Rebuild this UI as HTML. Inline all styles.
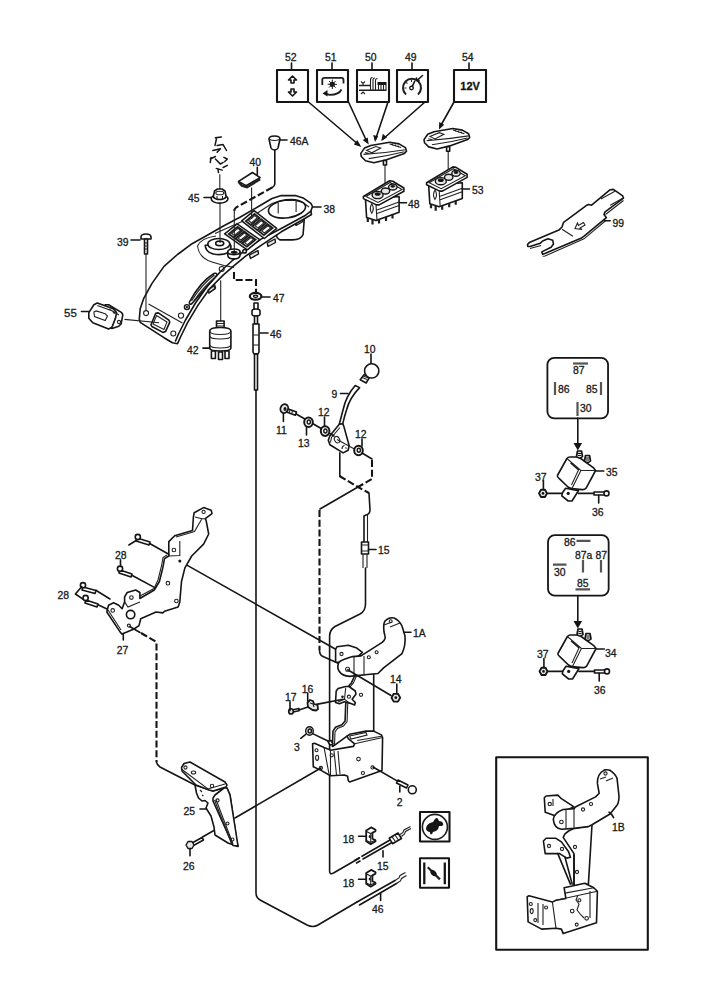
<!DOCTYPE html>
<html><head><meta charset="utf-8">
<style>
html,body{margin:0;padding:0;background:#fff;}
body{width:707px;height:1000px;overflow:hidden;}
svg{display:block;}
text{font-family:"Liberation Sans",sans-serif;font-size:10.4px;fill:#1a1a1a;stroke:#1a1a1a;stroke-width:0.3px;}
.l{fill:none;stroke:#151515;stroke-width:1.6;stroke-linejoin:round;stroke-linecap:round;}
.t{fill:none;stroke:#222;stroke-width:1.1;}
.th{fill:none;stroke:#151515;stroke-width:2.1;stroke-linejoin:round;}
.d{fill:none;stroke:#151515;stroke-width:2.1;stroke-dasharray:7 2.7;}
.p{fill:#fff;stroke:#151515;stroke-width:1.6;stroke-linejoin:round;}
.g{fill:#e6e6e6;stroke:#151515;stroke-width:1.4;stroke-linejoin:round;}
.k{fill:#151515;}
</style></head>
<body>
<svg width="707" height="1000" viewBox="0 0 707 1000">
<rect width="707" height="1000" fill="#fff"/>
<!-- SECTION:TOP -->
<g id="top">
<!-- icon boxes -->
<rect class="th" x="277" y="70" width="31" height="32"/>
<rect class="th" x="317" y="70" width="31" height="32"/>
<rect class="th" x="357" y="70" width="32" height="32"/>
<rect class="th" x="397" y="70" width="31" height="32"/>
<rect class="th" x="454" y="70" width="32" height="32"/>
<path class="l" d="M291.5 63V70M332 63V70M372 63V70M412 63V70M469 63V70"/>
<text x="285" y="61">52</text><text x="325" y="61">51</text><text x="365" y="61">50</text><text x="405" y="61">49</text><text x="462" y="61">54</text>
<!-- icon 52 arrows -->
<path class="l" d="M292.5 76l-4 4h2.5v3h3v-3h2.5z M292.5 96l-4 -4h2.5v-3h3v3h2.5z"/>
<!-- icon 51 -->
<path d="M322.3 85.1V79.5Q322.3 77.8 324.5 77.8H341.5Q343.5 77.8 343.5 80V83.5" fill="none" stroke="#1e1e1e" stroke-width="1.8"/>
<path d="M341.5 89.5Q339 94.8 330 94.8L326 94" fill="none" stroke="#1e1e1e" stroke-width="1.8"/>
<path class="k" d="M322.5 93.5l5-3.5v6.5z"/>
<circle class="k" cx="332.3" cy="84.3" r="2.6"/>
<path d="M332.3 79.6v9.4M327.6 84.3h9.4M329 81l6.6 6.6M335.6 81l-6.6 6.6" stroke="#1e1e1e" stroke-width="1"/>
<!-- icon 50 -->
<path d="M359 85.4H371M359 90.2H386.5" stroke="#1e1e1e" stroke-width="1.5"/>
<path class="t" d="M361 81.5l2 2 2-2M361 94l2-2 2 2M363 83.5v1.5M363 91.5v1"/>
<path d="M370.5 90V80q0-2.5 2-2.5M373 90V80q0-2 2-2M375.5 90V80.5q0-2 2-2M378.5 90V85M381 90V85M383.5 90V85M386 90V85" fill="none" stroke="#1e1e1e" stroke-width="1.1"/>
<path class="k" d="M377.5 82h9v3h-9z"/>
<!-- icon 49 gauge -->
<path d="M406 94.5A9 9 0 1 1 418 94.5" fill="none" stroke="#1e1e1e" stroke-width="2"/>
<circle cx="411.5" cy="88" r="1.8" fill="#fff" stroke="#1e1e1e" stroke-width="1.4"/>
<path class="l" d="M412.3 86.3L414.8 81M417 80.5L422.5 75.5M419 80.5h-2.5v-2.5"/>
<path class="t" d="M404.5 88h2M406 82.5l1.5 1M411.5 80v2M415.5 81.5"/>
<!-- 12V -->
<text x="460.3" y="89.5" style="font-weight:bold;font-size:11px;fill:#111">12V</text>
<!-- arrows -->
<path class="l" d="M308.5 102L359 145M348.5 102L367 142M388 102L375.5 139.5M425 102L382.5 139.5M454 102L440 127"/>
<path class="k" d="M361.3 147l-7.5-2.5 3.5-4.5z M368.7 144.5l-6-4.5 5-2.5z M375 142l-1.8-7 5 1.2z M381.3 141l1.5-7.2 4.2 3.8z M439 129.5l0.2-7.5 5 2.8z"/>
<g id="sw">
<!-- cap -->
<path class="p" d="M360.8 153.4L364.5 148.1L370.8 145.5L389.7 142.3L399.1 143.9L405.4 147.6L406.5 151.3L404.4 153.4L386.5 159.7L373.9 162.8L365.5 160.7L361.3 156.5z"/>
<path class="t" d="M363.4 154.4Q385 153 405.4 149.7M368.7 158.6Q388 156 404.4 151.8M366.6 150.2L376 146.5L380.7 148.1L371.8 152.8z M389.7 143.9L401.2 147.6M392 143.5l1 2M395 144.5l1 2M398 145.5l1 2M365 152.5l4 1"/>
<!-- stem -->
<path class="t" d="M385 165V190"/>
<path class="p" d="M383.4 160.5h3.1v4.5h-3.1z"/>
<!-- body -->
<path class="p" d="M365.5 199.6L366.6 217.5L376 220.6L399.1 212.2L399.1 196.5z"/>
<path class="t" d="M376 204.9L377 220.6M377 210L399 202M377 213.5L399 205.5"/>
<path class="p" d="M363.4 196.5L389.7 180.7L392.8 181.2L403.9 188L403.9 191.2L379.2 204.9L376.5 204.9L363.4 198.6z"/>
<path class="t" d="M366 196.5L390 182.5L402 189.5L378 202.5z"/>
<ellipse class="g" cx="377.6" cy="195" rx="5.5" ry="3.6"/><ellipse class="k" cx="377.6" cy="194" rx="3" ry="1.8"/>
<ellipse class="g" cx="385.5" cy="191" rx="4.2" ry="3"/>
<ellipse class="g" cx="392.8" cy="187" rx="4.2" ry="3"/><ellipse class="k" cx="392.8" cy="186.3" rx="2.3" ry="1.4"/>
<path class="t" d="M371.8 203.8q3 4.7 0 9.5q-3-4.7 0-9.5z"/>
<path d="M367.8 218v4M372.5 219.5v5M379 219.5v4M386 217v4M392.5 214.5v4" stroke="#1e1e1e" stroke-width="2.2"/>
</g>
<path class="l" d="M399.1 202.8H406.5"/>
<text x="408" y="208">48</text>
<use href="#sw" transform="translate(63.2 -13.8)"/>
<path class="l" d="M462.3 189H469.5"/>
<text x="472" y="194">53</text>
</g>
<!-- SECTION:CONSOLE -->
<g id="console">
<!-- 46A knob & line -->
<path class="p" d="M269 139q0-3 5.5-3t5.5 3l-2 9q-1 2-3.5 2t-3.5-2z"/>
<path class="t" d="M269.5 139.5q5 2 10 0"/>
<path class="l" d="M280 140H287"/>
<text x="290" y="145">46A</text>
<path class="l" d="M274.8 150V184Q274.8 186 272.4 187.4"/>
<!-- squiggle above 45 -->
<path class="l" style="stroke-width:1.5" d="M215.4 137.8L221.4 136.9M216.5 138.5L215 145.4M217.1 145.4L223.1 144.6L226.5 150.5M212.9 150.5L220.5 148.8L217.1 152.2M210.3 159L215.4 156.5M211 157.5L210.3 162.4M215.4 159L220.5 164.1L223.1 162.4M223.9 157.3L227.3 159L224.8 161.6M223.1 167.5L227.3 165.4M216.3 168.4L222.2 170.1M218 169L218.5 172.6"/>
<path class="t" d="M219.8 174.3V190.5"/>
<!-- 45 nut -->
<ellipse class="p" cx="219.6" cy="198.8" rx="8.4" ry="4.3"/>
<path class="p" d="M213.3 197l1.2-6 3-2h4.5l3 2 1.2 6q-2 2.5-6.5 2.5t-6.4-2.5z"/>
<ellipse class="t" cx="219.8" cy="193" rx="4" ry="1.8"/>
<path class="t" d="M217 196v3M222.5 196v3"/>
<path class="l" d="M204 197.5H211"/>
<text x="188" y="202">45</text>

<!-- 40 cap -->
<path class="p" d="M238.5 181.4L252.5 172.5L260.1 177.6L246.1 185.7z"/>
<path d="M238.5 182L241.9 185.7L247 187.4L260.1 179.3" fill="none" stroke="#1e1e1e" stroke-width="2.2"/>
<path class="l" d="M257.3 167.4V174.6"/>
<text x="249.5" y="166">40</text>
<!-- cup body -->
<path class="p" d="M304.5 216L303.1 234.5Q301 239.9 292.2 239.9L279.8 239.9Q276.7 238 276.7 236.8L276.5 226"/>
<!-- tabs -->
<path class="g" style="stroke-width:1.4" d="M295 222.5L302.5 218.5L303 221.5L296 225.5z M267.3 243L275 239L275.5 242.5L268 246.5z M249.5 255L258 250.5L258.5 254L250.5 258.5z M208 289L214.5 284.5L215.5 288L209 293z"/>
<!-- console main -->
<path class="p" d="M140.2 308.8L143.6 298.7L152.0 283.4L164.0 266.4L177.5 254.5L191.1 244.3L206.4 235.8L223.4 226.0L240.4 217.0L261.0 205.0L272.0 198.5L281.3 195.6L295.3 195.6L303.1 197.9L310.9 203.3L312.5 206.5L311.7 208.8L310.9 211.1L311.5 214.5L303.1 219.5L281.3 231.8L261.1 245.3L245.6 256.2L235.3 264.7L223.4 274.9L209.8 288.5L197.9 305.4L187.7 322.4L181.0 336.0L177.5 343.7L177.5 343.7L172.4 342.8L164.0 337.7L140.2 322.4L139.3 319.0z"/>
<path class="t" d="M215 233.5L231.9 226L250 218L262 210L272 203.5L281.3 200.5L295 200.5L303 202.5L309 207"/>
<path class="l" d="M310.9 211.1L304.7 215.8L284.5 226.7L261.1 239.1L245.6 250.0L233.0 260.0L221.0 271.0L207.5 286.0L195.5 303.0L185.5 320.0L178.5 334.0L175.5 341.0"/>
<path class="t" d="M148.5 304L182.4 323.1"/>
<!-- cup holder -->
<ellipse class="l" cx="287" cy="208.8" rx="18.7" ry="9" transform="rotate(-8 287 208.8)"/>
<path class="t" d="M278.2 202.6V213.5M296.1 201V212"/>
<!-- switch grid -->
<path class="p" style="stroke-width:1.5" d="M241.7 220.9L254.1 210.7L276.7 228.3L264.3 238.5z"/>
<path d="M245.8 221.1L254.5 214.0L259.5 217.9L250.8 225.0z" fill="#fff" stroke="#1a1a1a" stroke-width="1.8"/>
<path class="t" d="M248.6 220.7L254.8 215.6L257.5 217.7L251.3 222.8z"/>
<path d="M252.4 226.2L261.1 219.1L266.0 223.0L257.3 230.1z" fill="#fff" stroke="#1a1a1a" stroke-width="1.8"/>
<path class="t" d="M255.1 225.8L261.3 220.7L264.0 222.8L257.8 227.9z"/>
<path d="M258.9 231.3L267.6 224.2L272.6 228.1L263.9 235.2z" fill="#fff" stroke="#1a1a1a" stroke-width="1.8"/>
<path class="t" d="M261.7 230.9L267.9 225.8L270.6 227.9L264.4 233.0z"/>
<path class="p" style="stroke-width:1.5" d="M224.7 233.9L237.1 223.8L259.7 239.7L247.3 249.8z"/>
<path d="M228.8 234.0L237.5 226.9L242.5 230.4L233.8 237.5z" fill="#fff" stroke="#1a1a1a" stroke-width="1.8"/>
<path class="t" d="M231.6 233.5L237.8 228.4L240.5 230.3L234.3 235.4z"/>
<path d="M235.4 238.6L244.1 231.5L249.0 235.0L240.3 242.1z" fill="#fff" stroke="#1a1a1a" stroke-width="1.8"/>
<path class="t" d="M238.1 238.1L244.3 233.0L247.0 234.9L240.8 240.0z"/>
<path d="M241.9 243.2L250.6 236.1L255.6 239.6L246.9 246.7z" fill="#fff" stroke="#1a1a1a" stroke-width="1.8"/>
<path class="t" d="M244.7 242.7L250.9 237.6L253.6 239.5L247.4 244.6z"/>
<!-- boss 45 -->
<path class="t" d="M197.5 246Q199 258 212 262Q222 265.5 234 267.4M197.5 246Q201 238 216 236"/>
<path class="p" d="M205.2 245.3Q206 254.6 219 254.6Q231 254.6 231 246L229.8 244Z"/>
<ellipse class="p" cx="218.8" cy="244" rx="11" ry="5.5"/>
<ellipse cx="219.7" cy="243.4" rx="4" ry="2.2" fill="#fff" stroke="#151515" stroke-width="1.7"/>
<path class="p" d="M227.8 251.8v3.5q0.5 3.6 6.1 3.6t6.1-3.6v-3.5z"/>
<ellipse class="p" cx="233.9" cy="251.8" rx="6.1" ry="2.8"/>
<ellipse class="k" cx="234.2" cy="252.3" rx="3.4" ry="1.6"/>
<circle cx="244.6" cy="251.3" r="1.8" fill="#fff" stroke="#151515" stroke-width="1.5"/>
<path class="t" d="M251.6 187.4V219"/>
<path class="t" d="M220 202.5V243"/>
<path class="d" d="M272.4 187.4L236 207.5Q234.3 209 234.3 211"/>
<path class="t" d="M234.3 209V251"/>
<!-- grille -->
<path class="p" style="stroke-width:1.6" d="M189.4 302Q200 282 214 273.5q3-1 3 1.5Q205 289 192 303.5q-3 2-2.6-1.5z"/>
<path class="t" d="M191.5 301Q202 284 214.5 275M193.5 301.5Q204 286 215.5 277"/>
<path class="t" d="M208 290l6-4 1 3-6 4z"/>
<circle class="t" cx="221.7" cy="269" r="2.5"/>
<circle class="g" cx="186.9" cy="307.1" r="2.5"/><circle class="k" cx="186.9" cy="307.1" r="1.1"/>
<circle class="t" cx="181" cy="315.6" r="2.6"/>
<circle class="t" cx="146.1" cy="313.1" r="2.5"/>
<circle class="t" cx="173.3" cy="333.5" r="2.5"/>
<path class="l" d="M155.7 313.3L158.3 312.9L168.9 320.1L169.7 322.3L165.5 331.6L162.9 332.4L151.9 326.5L151 324.8z"/>
<path class="t" d="M156.5 315.5L167 322L164 329.5L153 324z"/>
<!-- tabs under -->

<!-- 38 label -->
<path class="l" d="M313 207H321"/>
<text x="323.5" y="212.5">38</text>
<!-- 39 bolt -->
<path class="p" d="M141 237q0-3 5-3t5 3v2h-10z"/>
<path class="p" d="M144.5 239h3v15h-3z"/>
<path class="t" d="M144.5 243h3M144.5 246h3M144.5 249h3"/>
<path class="l" d="M131 240H140"/>
<text x="117" y="246">39</text>
<path class="t" d="M146 254V311"/>
<!-- 55 -->
<path class="p" d="M105.2 304.7L108.6 304.7L121.7 312.6L122.8 314.9L121.1 323.9L118.8 326.2L112 328.5L108 326z"/>
<path class="p" style="stroke-width:1.6" d="M88.8 312.6L93.9 304.7L97.3 303L113.2 308.7L116.6 312.6L115.4 318.3L112 327.3L108.6 329L92.8 322.8L88.8 318.3z"/>
<path class="t" d="M93.9 312L96.2 310.9L105.2 313.8L107.5 316L105.2 320.5L94.5 316.6z M97.3 305.5L112.5 311L114.5 314M109 309l10 6M112 327.3L116 317"/>
<circle class="t" cx="119" cy="322" r="1.6"/>
<path class="l" d="M81.5 311.5H88.8"/>
<text x="64" y="317.3" style="font-size:11.5px">55</text>
<path class="t" d="M124.5 319.4L159.1 322.7"/>
<!-- 42 line & switch -->
<path class="t" d="M220.7 280.2V321"/>
<path class="p" d="M216.5 321h7.6v9h-7.6z"/>
<path class="t" d="M216.5 323.5h7.6M216.5 326h7.6M216.5 328.5h7.6"/>
<path class="p" d="M209.7 331q0-3.5 10.6-3.5t10.6 3.5v17q0 3-10.6 3t-10.6-3z"/>
<path class="t" d="M209.7 331q0 3.5 10.6 3.5t10.6-3.5M209.7 336q0 3 10.6 3t10.6-3M210 345q0 3 10.3 3t10.3-3"/>
<path class="p" d="M211.4 351h4v7.5h-4zM218.5 352h4v7.5h-4zM225 351h4v7.5h-4z"/>
<path class="l" d="M202.9 348.1H209.7"/>
<text x="187" y="354">42</text>
<!-- 47 / 46 -->
<path class="d" d="M234 272V280H256V292"/>
<ellipse cx="255.6" cy="296.3" rx="5.8" ry="3.4" fill="#fff" stroke="#151515" stroke-width="2.2"/>
<ellipse cx="255.6" cy="296.3" rx="2.2" ry="1.1" fill="none" stroke="#151515" stroke-width="1.3"/>
<path class="l" d="M262 297H270"/>
<text x="273" y="302">47</text>
<path class="p" d="M254 303h4v7h-4z"/>
<path class="p" d="M252 311q0-2 4-2t4 2v3q0 2-4 2t-4-2z"/>
<path class="p" d="M254.5 316h3v8h-3z"/>
<path class="p" d="M253 324h6v28l-1 2h-4l-1-2z"/>
<path class="t" d="M253 335h6M253 345h6"/>
<path class="l" d="M254.5 354h3v36h-3z"/>
<path class="l" d="M260 333H268"/>
<text x="270" y="338">46</text>
<path class="l" d="M256 390V893Q256 898 261 900.5L307 925Q313 928 318 925L357 902"/>
</g>
<!-- SECTION:RIGHT -->
<g id="right">
<!-- 99 tool -->
<path class="p" d="M529.3 242.6L558.9 230.1L562 227L563.6 222.3L586.9 205.2L588.5 204.4L591.6 205.2L610.2 189.7L613.4 189.4L622.7 195.9L623.5 198.2L604.8 212.2L604 214.6L606.4 217.7L583.8 236.3L581.5 237.9L544.9 253.5L542.6 254.2L541.8 251.9L551.1 247.2L553.5 244.1L552.7 240.2L548 238.7L542.6 241L540.2 243.3L530.1 246.5L527.8 246.5L527.5 244.5z"/>
<path class="t" d="M623.5 200.5L605.5 214.5M606.4 220L584 238.8L545 256L542.6 256.2M530 248.5L541 245.5M600.9 199L614.9 191.2M610.2 205.2L622.7 198.2M562 229.3L572.9 236.3"/>
<path class="t" d="M575 228.5l2.5-5.5 1 2.5 5-3 1.5 2.5-5 3 2 1.5z"/>
<path class="l" d="M604 220.8H610.2"/>
<text x="612.5" y="226.5">99</text>
<!-- relay box 1 -->
<rect x="547.4" y="357.8" width="60.65" height="60.6" rx="6.8" fill="none" stroke="#151515" stroke-width="1.8"/>
<path d="M573 363.5h15" stroke="#555" stroke-width="2.2"/>
<text x="573" y="374">87</text>
<path d="M555 382v13M601 382v13M577.5 402v14" stroke="#555" stroke-width="2.2"/>
<text x="558" y="393">86</text><text x="586" y="393">85</text><text x="580" y="412">30</text>
<path class="l" d="M577.8 418V444"/>
<path class="k" d="M573.5 443h8.6l-4.3 7.5z"/>
<!-- relay 35 -->
<g id="relay1">
<path class="p" d="M565.6 488.3L578.4 490.8L572 501L568.2 501L561.8 495.9L562.5 492.7z"/>
<circle class="k" cx="568.2" cy="493.4" r="1.6"/>
<path class="p" d="M557.4 475.5L566.9 458.5Q568 457 570 457L576 457Q578 457 580 458L593.6 467.9L595.6 470.5L586 488.3Q584.5 490 582 489.6L572 488.6Q570 488.3 568 487L559.3 478.7Q557 477 557.4 475.5z"/>
<path class="t" d="M566.9 458.5L580.9 470.5L595.6 470.5M580.9 470.5L572 488.6M570.5 463L578.5 470L571.5 485"/>
<path class="g" style="stroke-width:1.7" d="M576.5 456.5l1-5.5h4l1 5.5q-1.5 1.5-3 1.5t-3-1.5z M584.5 461l1-5.5h4l1 5.5q-1.5 1.5-3 1.5t-3-1.5z"/>
<path d="M578 453.5h3M578 455.5h3M586 458h3M586 460h3" stroke="#151515" stroke-width="1"/>
<path class="g" style="stroke-width:1.9" d="M539 493.4l2-3.6h4l2 3.6-2 3.6h-4z"/>
<circle class="k" cx="543" cy="493.4" r="1.3"/>
<path class="l" d="M547.5 493.4H562M578.4 493.4H594"/>
<path class="p" d="M594 492h11v3h-11z"/>
<circle class="p" cx="606.5" cy="493.4" r="2.5"/>
<path class="l" d="M543.4 480.6V488.9M598.7 495.3V502.9M596.2 471H603.8"/>
</g>
<text x="535" y="480.5">37</text><text x="592" y="516">36</text><text x="606" y="475.5">35</text>
<!-- relay box 2 -->
<rect x="548" y="535.1" width="60.65" height="60.6" rx="6.8" fill="none" stroke="#151515" stroke-width="1.8"/>
<path d="M576.5 540.8h14M583 560v12.5M601 560v12.5M553 564.6h13.5M575.5 589.3h14.5" stroke="#555" stroke-width="2.2"/>
<text x="564" y="545.5">86</text><text x="575" y="558.5">87a</text><text x="595.5" y="558.5">87</text>
<text x="554" y="576">30</text><text x="577" y="587">85</text>
<path class="l" d="M577.8 596V622"/>
<path class="k" d="M573.5 621h8.6l-4.3 7.5z"/>
<use href="#relay1" transform="translate(0.5 178)"/>
<text x="537" y="657.5">37</text><text x="594" y="694.3">36</text><text x="605" y="656.5">34</text>
<!-- 1B box -->
<rect class="th" x="496.2" y="757.2" width="151.6" height="192.5"/>
</g>
<!-- SECTION:CENTER -->
<g id="center">
<text x="364" y="353">10</text>
<path class="l" d="M371 354V363.5"/>
<!-- lever 9 -->
<path class="p" d="M355.2 385.5Q346 396 343 410Q341 418 339.3 424L342.6 424.3Q344 418 346.5 410Q349.5 398 359.6 387.6z"/>
<!-- knob 10 -->
<path class="p" d="M360.2 379.7L364 374.8L370 376.4L366.2 383z"/>
<path class="t" d="M362 377.5l5 2M363 376l5.5 2"/>
<circle class="p" cx="371.7" cy="370.9" r="7.15"/>
<path class="l" d="M340.4 393.5H348"/>
<text x="331.5" y="398.4">9</text>
<!-- lever bracket -->
<path class="p" d="M339.3 424.3L342.6 423.7L343.7 425.9L349.2 445.8L348.1 450.2L343.1 452.9L329.9 444.7L328.3 440.2L329.9 435.8z"/>
<path class="t" d="M340 427.5L331.5 437.5L330.5 442.5"/>
<ellipse class="t" cx="337.1" cy="439.7" rx="2.5" ry="3.4" transform="rotate(-30 337.1 439.7)"/>
<path class="t" d="M342 449q0-3 2.5-3.5M345.5 447.5l1 1"/>
<!-- bolt 11 line -->
<path class="l" d="M295.8 413.7L334 436"/><path class="t" d="M337 439.5L358.5 451.3"/>
<path class="p" d="M287 408.5l9.5 3.5-1.2 3.2-9.5-3.5z"/>
<path class="t" d="M290 410l-1 3M292.5 411l-1 3"/>
<ellipse class="g" cx="284.3" cy="408.6" rx="3.8" ry="4.5" transform="rotate(20 284.3 408.6)" style="stroke-width:1.8"/>
<ellipse class="k" cx="285" cy="409" rx="1.5" ry="2"/>
<ellipse cx="308.5" cy="422.2" rx="4.3" ry="4.8" fill="#fff" stroke="#151515" stroke-width="2"/>
<ellipse cx="308.8" cy="422" rx="1.6" ry="2" fill="none" stroke="#151515" stroke-width="1.4"/>
<ellipse cx="325.1" cy="431.1" rx="4.3" ry="4.8" fill="#fff" stroke="#151515" stroke-width="2"/>
<ellipse cx="325.4" cy="431" rx="1.6" ry="2" fill="none" stroke="#151515" stroke-width="1.4"/>
<ellipse cx="358.5" cy="450.5" rx="4.3" ry="4.8" fill="#fff" stroke="#151515" stroke-width="2"/>
<ellipse cx="358.8" cy="450.3" rx="1.6" ry="2" fill="none" stroke="#151515" stroke-width="1.4"/>
<path class="l" d="M283.4 414V421.5M306.5 427.5V435M324.5 417V426M362 439V446"/>
<text x="276" y="434">11</text><text x="298" y="447">13</text><text x="318" y="416">12</text><text x="355" y="438">12</text>
<!-- cable routing -->
<path class="l" d="M339.8 452.9V476"/>
<path class="d" d="M339.5 476L358 487L369 493"/>
<path class="l" d="M362 453L372 459"/>
<path class="d" d="M372 460V479L358 487"/>
<path class="l" d="M358 487L320 509"/>
<path class="d" d="M319.5 510V650"/>
<path class="l" d="M319.5 650Q319.5 655 323 656.5L339.8 664.1"/>
<path class="l" d="M369 493L370 510Q370 514 366 515L364 516V542"/>
<path class="t" d="M367.5 515V542"/>
<path class="p" d="M361.5 542h7v12h-7z"/>
<path class="t" d="M361.5 545h7M361.5 551h7"/>
<path class="t" d="M363 554V568M367 554V568"/>
<path class="l" d="M365.5 568V604Q365.5 611 360 614L335 626.5Q329.6 630 329.6 636V871Q329.6 875 333.5 873L359 858.2"/>
<path class="l" d="M368.5 549.5H376"/>
<text x="378" y="554">15</text>
<!-- long line from 27 -->
<path class="l" d="M179.8 561.1L337 650"/>
<!-- 1A rear tab -->
<path class="p" d="M335.6 649.5L337 646.7L348.3 645.3L356.8 648.1L362.4 652.3L352 662L335.6 662.2z"/>
<circle class="t" cx="341.5" cy="654" r="1.6"/>
<!-- strip -->
<path class="p" d="M354.6 676L373.7 673V732L347 736.2L333 746.4L332.4 746.4L333 731.1L335.5 727.3L341.9 724.7L345.1 720.9L345.7 704.4L348.3 686.5L351.5 682.7z"/>
<path class="t" d="M356.5 676L353.5 682.7L350.5 686.5L347.7 704.4L347.1 721.5L343.5 726L337.5 728.5L335 732L334.5 746"/>
<circle class="t" cx="361" cy="694.8" r="1.6"/>
<!-- tab 16/17 -->
<path class="p" d="M336.2 691L338.1 688.5L345.7 686.5L348.9 686.5L355.3 691L355.9 694.2L352.1 699.3L355.3 702.5L354.6 705L349.6 703.1L344.5 701.8L339.4 703.7L335.5 702.5z"/>
<path class="t" d="M345.7 687.8L344.5 699.3L349.6 703.1M344.5 699.3L338 702"/>
<circle class="t" cx="348.9" cy="696.7" r="1.6"/><circle class="k" cx="342.5" cy="696.7" r="1.3"/>
<!-- 1A upper -->
<path class="p" d="M338.4 663.6Q339 661 345 659L352.5 656.6L361 655.9L382.2 642.4Q386 639 385 636L384 632Q383 624 385 621Q389 617 394 618Q399 620 402 626L404.9 635.4Q406 645 402 653.7L383.6 667.9L378 673.5L362.4 675L349.7 676.4Q342 676 339 671Q337 668 338.4 663.6z"/>
<path class="t" d="M354 657V676M364 656V675M384 625l8-3M390 627l10-4"/>
<circle class="t" cx="347.6" cy="669.3" r="2"/>
<circle class="t" cx="368.8" cy="657.3" r="1.5"/><circle class="t" cx="376.6" cy="652.3" r="1.5"/><circle class="t" cx="390.7" cy="621.2" r="1.5"/>
<path class="l" d="M403.7 632.2H411"/>
<text x="413" y="637.3">1A</text>
<!-- 14 -->
<path class="l" d="M347.7 669.8L391 695.5"/>
<path class="g" style="stroke-width:1.8" d="M391.5 697.7l2.2-3.9h4.3l2.2 3.9-2.2 3.9h-4.3z"/>
<circle class="k" cx="395.8" cy="697.7" r="1.4"/>
<path class="l" d="M396.8 684V692.8"/>
<text x="390" y="683">14</text>
<!-- 16/17 -->
<path class="l" d="M316.5 704.4L343.2 699.3"/>
<path class="g" style="stroke-width:1.8" d="M307.5 702.5l2.5-2.5 3 1 1 3 3.5 1 .5 4-2 1.5-3.5-.5-4.5-3z"/>
<path class="t" d="M310 703l3 1 1 3"/>
<path class="p" d="M292 710l7-1.5v2.3l-7 1.5z"/>
<ellipse class="g" cx="291" cy="711.4" rx="2.3" ry="2.6" style="stroke-width:1.6"/>
<path class="l" d="M299 710L308 707M290 701.7V710.6M307.7 693V701"/>
<text x="285" y="700.7">17</text><text x="301.8" y="692.8">16</text>
<!-- 3 -->
<ellipse class="g" cx="309.5" cy="731" rx="3.8" ry="4.3"/>
<ellipse class="p" cx="309.8" cy="731" rx="1.6" ry="2"/>
<path class="l" d="M300.8 738.3L305.7 734.4M312.6 733.6L328.5 741.3"/>
<text x="293.9" y="751.2">3</text>
<!-- lower box -->
<path class="p" d="M312.6 743.8L314.5 743.2L324.1 747.6L327.9 748.9L330.5 750.2L353.4 746.4L354.6 743.8L348.3 738.7L347 736.2L349.6 734.3L366.1 731.1L373.7 731.1L381.4 734.9L382.6 737.5L382 770.6L349.6 782L348.3 780.7L347.6 776.3L344.5 775L330.5 775.7L329.2 775L321.5 770.6L313.3 766.7z"/>
<path class="t" d="M324.1 747.6L329.2 775M330.5 750.2L330.5 775.7M354.6 743.8L382.6 737.5M349.6 736L366 732.5L367 735L351 739zM357.2 740.5L381.4 736.2M334 751L336.5 775M338 751L340 774"/>
<path class="p" d="M328 741.5l3-1 2 3.5-3 1z"/>
<circle class="t" cx="316.5" cy="750.2" r="1.5"/><ellipse class="t" cx="317.1" cy="757.8" rx="1.5" ry="2.6"/><circle class="t" cx="320.9" cy="768" r="1.6"/>
<circle class="t" cx="331.7" cy="755.3" r="1.6"/><circle class="t" cx="358.5" cy="759.1" r="1.8"/><circle class="t" cx="372.5" cy="767.4" r="1.6"/><circle class="t" cx="362.9" cy="773.1" r="1.6"/>
<!-- 2 -->
<path class="l" d="M373 767L398.8 781.9"/>
<path class="p" d="M398 780l10 5-1.5 3-10-5z"/>
<circle class="p" cx="412.3" cy="789.8" r="4"/>
<path class="l" d="M399.8 786V792"/>
<text x="396.8" y="805.6">2</text>
<!-- line to 25 -->
<path class="l" d="M320.9 768L235 818M220 827L202.5 837"/>
</g>
<!-- SECTION:LEFT -->
<g id="left">
<!-- bracket 27 -->
<path class="p" d="M193.4 517L194.2 512.7L203.6 507.6L211.2 510.2L212 513.6L205.3 518.7L206.1 520.4L208.7 534L203.6 544.1L191.7 556L184.9 567.9L181.5 581.5L179.8 601.9L178.1 607L164.5 611.2L162.8 612.9L156 612L140.7 618.8L139 625.6L134 629L122.1 634.1L120.4 632.4L106.8 612L108.5 605.3L113.6 602.7L118.7 605.3L122.1 608.7L124.6 601.9L124.6 596.8L127.2 592.5L135.7 590L139.9 592.5L139.9 598.5L154.3 590L159.4 581.5L162.8 567.9L164.5 558.6L168.8 556L168.8 541.6L174.7 535.7L192.5 530.6z"/>
<path class="t" d="M195 517L201.9 518.7L205.3 518.7M201.9 518.7L194.5 531.5L176 537M140 596L154 588.5L158 580L161.5 566L163 557.5L167 555M168.8 556L179.8 555.5L179.8 541M124.6 601.9L128 607L139.9 601.9M108 610L121 630"/>
<circle class="t" cx="203.6" cy="511.9" r="1.6"/>
<circle class="t" cx="173.9" cy="550" r="1.8"/>
<circle class="k" cx="179.8" cy="561.1" r="1.5"/>
<circle class="t" cx="167.9" cy="583.2" r="1.8"/>
<circle class="t" cx="176.4" cy="601" r="1.8"/>
<circle class="t" cx="131.4" cy="597.6" r="1.8"/>
<circle class="t" cx="112.7" cy="610.4" r="1.8"/>
<circle class="l" cx="130.6" cy="614.6" r="4.2"/>
<circle class="t" cx="128.9" cy="625.6" r="1.5"/>
<!-- bolts 28 -->
<path class="l" d="M149.2 543.3L168.8 554.3M132.3 575.5L154.3 587.4M95.8 590.3L110 599M97 604.3L107 609M128.9 545L135.7 540.7M179.8 561.1L180 561.5"/>
<path class="p" d="M137 538l13 4-1 3-13-4z"/><circle class="p" cx="137.8" cy="537" r="2.6"/>
<path class="p" d="M120 570l12 4-1 3-12-4z"/><circle class="p" cx="120" cy="568.7" r="2.6"/>
<path class="p" d="M83 587l13 3.5-1 3-13-3.5z"/><circle class="p" cx="83" cy="585.2" r="2.6"/>
<path class="p" d="M86 600l12 4-1 3-12-4z"/><circle class="p" cx="85.6" cy="598" r="2.6"/>
<path class="l" d="M120.5 559.8V566.2M75.4 594L81.8 586.5M75.4 594L83 599.2M123.3 633.6V640"/>
<text x="114.9" y="558.5">28</text><text x="57.6" y="599.2">28</text><text x="116.7" y="654">27</text>
<!-- dashed from 27 down to 25 -->
<path class="l" d="M129.7 626.5L140 632.5"/><path class="d" d="M141 633L156.5 642V762"/>
<path class="l" d="M156.5 762Q157 765 160 767L195 785"/>
<!-- bracket 25 -->
<path class="p" d="M195 785L196.5 793L198.5 798L202 801L205 800.5L208 803L206 808L211 816L214 827L215 835L228 843L238 846.5L237 843L230 795L227 788L224 788L213 791z"/>
<path class="p" d="M181.5 767.5L184 763.5L190 762L225 782L227 785L226 787L213 791L209 790L196 785L182 771z"/>
<path class="t" d="M182 769.5L208 789L225 784"/>
<path class="p" d="M213 798L215 795L224 788L227 788L230 795L238 846L233 845.5L213 801z"/>
<path class="t" d="M214.5 800L231.5 843.5M216 799.5L233 844"/>
<circle class="t" cx="185.5" cy="767.5" r="1.6"/><ellipse class="t" cx="193.5" cy="772.5" rx="2.2" ry="1.5"/><circle class="t" cx="212" cy="786" r="1.7"/>
<circle class="t" cx="217.5" cy="800.5" r="1.6"/><circle class="t" cx="227.5" cy="823.5" r="1.5"/><circle class="t" cx="232.5" cy="839.5" r="1.5"/>
<path class="t" d="M200 790l2 2M202 795l1.5 1"/>
<path class="l" d="M200 809H206"/>
<text x="183.5" y="815">25</text>
<!-- bolt 26 -->
<path class="p" d="M192 843l10-5.5 1.5 2.5-10 5.5z"/>
<path class="g" d="M186 845l2-3.5h4l2 3.5-2 3.5h-4z"/>
<path class="l" d="M190 849.5V855.8"/>
<text x="183" y="870">26</text>
</g>
<!-- SECTION:BOTTOM -->
<g id="bottom">
<!-- cable 15 end -->
<path class="l" d="M355 860.3L359.5 857.8M362 856.3L390.4 839.8M356.5 863L360 861M363 859L391.5 842.8"/>
<path class="p" d="M389.2 838.2L398 833L401.5 838.5L392.5 843.7z"/>
<path class="t" d="M392 836.6l3.5 5.2M395 835l3.5 5"/>
<path class="t" d="M400 834.5L403 832.5L404 830L410.5 826.5M401.5 836.5L404.5 834L405.5 831.5L411 828.5"/>
<path class="l" d="M383 850.7V857"/>
<text x="377" y="870.3">15</text>
<!-- cable 46 end -->
<path class="l" d="M357 902L395 880.5M359.5 905L396.5 883.5"/>
<path class="t" d="M395 880.5L399 878L400 875.5L405.5 872.5M396.5 883.5L400.5 881L401.5 878.5L406.5 875.5"/>
<path class="l" d="M380.6 892.7V900.5"/>
<text x="372" y="913">46</text>
<!-- clips 18 -->
<g id="clip18">
<path class="p" style="stroke-width:1.8" d="M366.2 830.4L371.1 827.4L375.6 829.8L375.4 831.2L372.4 832.9V838.7L375.3 840L375.6 841.2L370.7 844.2L366.2 841.2z"/>
<path class="t" d="M366.5 831.5L370.7 833.6L372.4 832.9M370.7 833.6V842M366.4 840.5L370.7 842.5L375 840.2"/>
<ellipse class="k" cx="369.6" cy="836.4" rx="0.9" ry="1.5"/>
</g>
<use href="#clip18" transform="translate(0 42.5)"/>
<path class="l" d="M358.5 836.2H366.3M358.5 879.2H366.3"/>
<text x="342.7" y="843">18</text><text x="342.7" y="886.5">18</text>
<!-- icon boxes -->
<rect class="th" x="420" y="812" width="29.5" height="29.5"/>
<circle cx="434.9" cy="826.9" r="12.5" fill="none" stroke="#1e1e1e" stroke-width="1.6"/>
<path class="k" d="M426 829q0-4 4-6l3-1 2-3q2-2 3 0l1 2q3 0 4 2q1 2-1 3l-3 0q0 3-3 5l-3 1l-1 2q-2 1-2-1l0-1q-3 0-4-3z"/>
<rect class="th" x="420" y="858.3" width="29" height="29.5"/>
<path d="M424.3 862.4V884.3M444.8 862.4V884.3" stroke="#151515" stroke-width="2.3"/>
<path d="M427.8 867.3L439.9 879.4" stroke="#1e1e1e" stroke-width="2.2"/>
<ellipse class="k" cx="433.5" cy="873" rx="3.6" ry="2.4" transform="rotate(45 433.5 873)"/>
<!-- 1B bracket -->
<path class="p" d="M544.3 797.8L546.1 796L557.8 795.1L561.4 798.7L574 806.8L555.1 815.8L545.2 812.2z"/>
<circle class="t" cx="549.7" cy="804.1" r="1.7"/>
<path class="t" d="M553 799v7"/>
<path class="p" d="M574 828.4L592 824.8L588.4 884.1L574 886L574 853.6L563.2 837.4L565 833.8L568.6 831z"/>
<path class="p" d="M543.4 841L546.1 838.3L556 838.3L561.4 841.9L568.6 851.8L570.4 857.2L566.8 858.1L559.6 853.6L545.2 853.6z"/>
<path class="l" d="M557.8 853.6L570.4 884.1M565 857.2L572.2 884.1M574 855V886"/>
<circle class="t" cx="549" cy="846" r="1.6"/><circle class="t" cx="562" cy="849" r="1.6"/><circle class="t" cx="575" cy="847" r="1.6"/><circle class="t" cx="577" cy="872" r="1.6"/>
<path class="p" d="M553.3 819.4Q554 813 563.2 809.5L574 808.6L575.8 806.8L595.6 796.9L599.2 793.3L597.4 783.4Q597 774 604.6 769.9Q610 769 611.8 771.7Q617 776 617.2 779.8L619 796Q619 802 617.2 805L610 814L592 824.8L588.4 826.6L574 828.4L561.4 829.3Q554 828 553.3 819.4z"/>
<path class="t" d="M566 810V829M574 809V828M600 779l6-2M606 781l7-3"/>
<circle class="t" cx="561.4" cy="822" r="1.8"/><circle class="t" cx="583" cy="809.5" r="1.6"/><circle class="t" cx="591" cy="804.1" r="1.6"/><circle class="t" cx="605.5" cy="773.5" r="1.6"/>
<path class="p" d="M527.2 896.7L529 895.8L552.4 902.1L556 900.3L565.9 898.5L565 893.1L564.1 887.7L572.2 886L584.8 883.2L593.8 887.7L597.4 891.3L596.5 922.8L563.2 933.6L561.4 929.1L556 928.2L541.6 929.1L528.1 921.9z"/>
<path class="t" d="M552.4 902.1L556 928.2M556 900.3L597.4 891.3M565 893.1L593.8 887.7M538 903v20M543 904V925M578 895l-2 5 3 4-2 6 4 5 3 3M590 891V918"/>
<circle class="t" cx="530.8" cy="904" r="1.5"/><ellipse class="t" cx="531.7" cy="911.1" rx="1.5" ry="2.5"/><circle class="t" cx="535.3" cy="920.1" r="1.5"/>
<circle class="t" cx="546.1" cy="907.5" r="1.5"/><circle class="t" cx="572.2" cy="911.1" r="1.8"/><circle class="t" cx="586.6" cy="918.3" r="1.8"/><circle class="t" cx="576.7" cy="924.6" r="1.5"/><circle class="t" cx="579.4" cy="900.3" r="1.5"/>
<path class="l" d="M609.1 812.2Q612 814 613.6 817.6"/>
<text x="612" y="831">1B</text>
</g>
</svg>
</body></html>
